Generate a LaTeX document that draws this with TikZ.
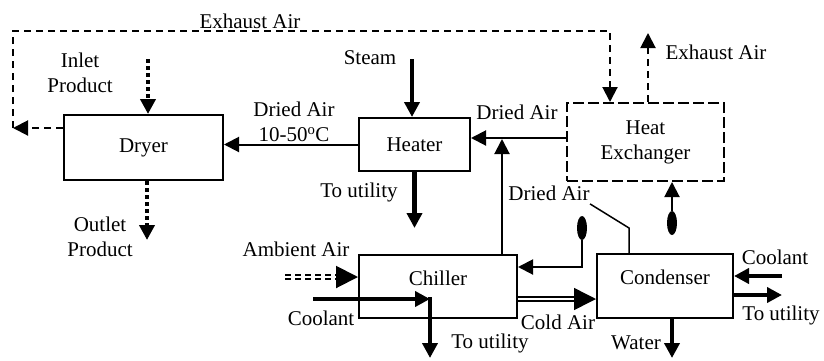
\documentclass[tikz,border=0pt]{standalone}
\usepackage{fontspec}
\setmainfont{Liberation Serif}
\usetikzlibrary{arrows.meta, shapes.geometric}

\begin{document}
\begin{tikzpicture}[x=1pt, y=-1pt, font=\fontsize{21}{25}\selectfont,
    box/.style={rectangle, draw, line width=2pt, inner sep=2pt, align=center},
    headtip/.style={-{Triangle[length=15pt, width=15pt]}},
    bigtip/.style={-{Triangle[length=22pt, width=22pt]}},
    thinarrow/.style={line width=2pt, headtip},
    thickarrow/.style={line width=4.5pt, headtip},
    dotarrow/.style={line width=4pt, dash pattern=on 4pt off 3pt, headtip},
    dashline/.style={line width=2pt, dash pattern=on 7pt off 5pt},
    trap/.style={ellipse, fill, minimum width=10pt, minimum height=24pt, inner sep=0pt}]
    \useasboundingbox (0,0) rectangle (824,360);

    % Draw nodes
    \node[box, minimum width=159pt, minimum height=65pt] (dryer) at (143.5,147.5) {Dryer};
    \node[box, minimum width=111pt, minimum height=53pt] (heater) at (414.5,144.5) {Heater};
    \node[box, dash pattern=on 11pt off 4pt, minimum width=157pt, minimum height=78pt] (hx) at (645.5,142) {Heat\\Exchanger};
    \node[box, minimum width=158pt, minimum height=63pt, text depth=17pt] (chiller) at (438,286.5) {Chiller};
    \node[box, minimum width=136pt, minimum height=64pt, text depth=17pt] (condenser) at (665,286) {Condenser};
    \node[trap] (trapa) at (582,228) {};
    \node[trap] (trapb) at (672,223) {};

    % Free ends
    \coordinate (exhleft) at (13,128);
    \coordinate (exhtop) at (13,31);
    \coordinate (exhin) at ([xshift=-35.5pt]hx.north);
    \coordinate (exhout) at (648,33);
    \coordinate (inletin) at (148,59);
    \coordinate (prodout) at (147,240);
    \coordinate (steamin) at (412,59);
    \coordinate (airline) at ([yshift=4pt]hx.west);
    \coordinate (ambin) at (285,277);
    \coordinate (coolin) at (313,299);
    \coordinate (coolturn) at (430,299);
    \coordinate (coolout) at (430,358);
    \coordinate (bend) at (629,228);
    \coordinate (ccoolin) at (782,276);
    \coordinate (cutil) at (782,295);
    \coordinate (waterout) at (672,358);

    % Draw connections
    \draw[dashline, headtip] (dryer.west |- exhleft) -- (exhleft);
    \draw[dashline, headtip] (exhleft) -- (exhtop) -| (exhin);
    \draw[dashline, headtip] (exhout |- hx.north) -- (exhout);
    \draw[dotarrow] (inletin) -- (inletin |- dryer.north);
    \draw[dotarrow] (prodout |- dryer.south) -- (prodout);
    \draw[thickarrow] (steamin) -- (steamin |- heater.north);
    \draw[thinarrow] (heater.west) -- (heater.west -| dryer.east);
    \draw[thinarrow] (airline) -- (airline -| heater.east);
    \draw[thinarrow, shorten >=1pt] ([xshift=64pt]chiller.north) -- ([xshift=64pt]chiller.north |- airline);
    \draw[thickarrow] (heater.south) -- ++(0,56);
    \draw[line width=2pt, double, double distance=2pt, dash pattern=on 6pt off 4pt, bigtip] (ambin) -- (ambin -| chiller.west);
    \draw[thickarrow] (coolin) -- (coolturn);
    \draw[thickarrow] ([yshift=2pt]coolturn) -- (coolout);
    \draw[line width=1.5pt, double, double distance=2.5pt, bigtip] ([yshift=-12.5pt]chiller.east) -- ([yshift=-12.5pt]chiller.east -| condenser.west);
    \draw[thinarrow] (trapa.south) |- ([yshift=19.5pt]chiller.east);
    \draw[thinarrow] (trapb.north) -- (trapb.north |- hx.south);
    \draw[thickarrow] (ccoolin) -- (ccoolin -| condenser.east);
    \draw[thickarrow] (cutil -| condenser.east) -- (cutil);
    \draw[thickarrow] (waterout |- condenser.south) -- (waterout);

    % Labels
    \node (lexhtop) at (250,21) {Exhaust Air};
    \node (lexhout) at (716,52) {Exhaust Air};
    \node[align=center] (linlet) at (80,73) {Inlet\\Product};
    \node[align=center] (loutlet) at (100,237) {Outlet\\Product};
    \node (lsteam) at (370,58) {Steam};
    \node[align=center] (ldryair) at (294,122) {Dried Air\\10-50\textsuperscript{o}C};
    \node (lhxair) at (517,112) {Dried Air};
    \node (lheatutil) at (359,192) {To utility};
    \node (lambient) at (296,249) {Ambient Air};
    \node (lcoolant) at (321,318) {Coolant};
    \node (lchillutil) at (490,343) {To utility};
    \node (lcoldair) at (558,322) {Cold Air};
    \node (lcondair) at (549,193) {Dried Air};
    \node (lccoolant) at (775,257) {Coolant};
    \node (lcondutil) at (781,315) {To utility};
    \node (lwater) at (636,343) {Water};
    \draw[line width=1.5pt] ([xshift=-3pt]lcondair.south east) -- (bend) -- (bend |- condenser.north);
\end{tikzpicture}
\end{document}
